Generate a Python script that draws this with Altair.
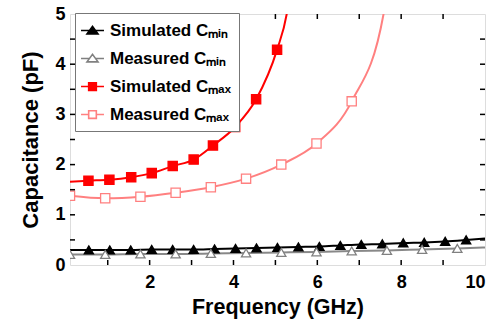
import altair as alt
import pandas as pd

# ---------------- data ----------------
series_names = ["Simulated Cₘᵢₙ", "Measured Cₘᵢₙ", "Simulated Cₘₐₓ", "Measured Cₘₐₓ"]

sim_cmin_f = [0.55, 1.05, 1.55, 2.05, 2.55, 3.05, 3.55, 4.05, 4.55, 5.05,
              5.55, 6.05, 6.55, 7.05, 7.55, 8.05, 8.55, 9.05, 9.55]
sim_cmin_c = [0.30, 0.30, 0.30, 0.31, 0.31, 0.31, 0.32, 0.33, 0.34, 0.35,
              0.36, 0.37, 0.39, 0.41, 0.42, 0.44, 0.45, 0.47, 0.50]

meas_cmin_f = [0.1, 0.94, 1.78, 2.62, 3.46, 4.30, 5.14, 5.98, 6.82, 7.66, 8.50, 9.34]
meas_cmin_c = [0.21, 0.21, 0.22, 0.22, 0.23, 0.24, 0.25, 0.26, 0.28, 0.29, 0.31, 0.33]

sim_cmax_f = [0.54, 1.04, 1.56, 2.05, 2.55, 3.05, 3.51, 4.04, 4.54, 5.04]
sim_cmax_c = [1.68, 1.70, 1.75, 1.83, 1.97, 2.10, 2.38, 2.75, 3.30, 4.29]

meas_cmax_f = [0.1, 0.94, 1.78, 2.62, 3.46, 4.30, 5.14, 5.98, 6.82]
meas_cmax_c = [1.38, 1.33, 1.36, 1.44, 1.55, 1.72, 2.00, 2.42, 3.26]

# curve ends (where the fitted lines run beyond the markers)
sim_cmin_ends = [(0.1, 0.30), (10.0, 0.53)]
meas_cmin_ends = [(10.0, 0.35)]
sim_cmax_ends = [(0.1, 1.66), (5.27, 5.0), (5.36, 5.5)]
meas_cmax_ends = [(7.58, 5.0), (7.68, 5.5)]

x_major = [2, 4, 6, 8, 10]
x_ticks = [1, 2, 3, 4, 5, 6, 7, 8, 9]
y_major = [0, 1, 2, 3, 4, 5]
y_ticks = [0.5, 1, 1.5, 2, 2.5, 3, 3.5, 4, 4.5]

# ---------------- tables ----------------
pts = []
for name, fs, cs in [(series_names[0], sim_cmin_f, sim_cmin_c),
                     (series_names[1], meas_cmin_f, meas_cmin_c),
                     (series_names[2], sim_cmax_f, sim_cmax_c),
                     (series_names[3], meas_cmax_f, meas_cmax_c)]:
    for f, c in zip(fs, cs):
        pts.append({"series": name, "f": f, "c": c})
pts_df = pd.DataFrame(pts)

lines = list(pts)
for name, ends in [(series_names[0], sim_cmin_ends), (series_names[1], meas_cmin_ends),
                   (series_names[2], sim_cmax_ends), (series_names[3], meas_cmax_ends)]:
    for f, c in ends:
        lines.append({"series": name, "f": f, "c": c})
lines_df = pd.DataFrame(lines).sort_values(["series", "f"])

xt_df = pd.DataFrame({"f": x_ticks})
yt_df = pd.DataFrame({"c": y_ticks})

W, H = 415, 251
TL = 5  # tick length
FONT = "Liberation Sans"

line_colors = ["#000000", "#888888", "#ff0000", "#ff8080"]
stroke_colors = ["#000000", "#808080", "#ff0000", "#ff8080"]
fill_colors = ["#000000", "#ffffff", "#ff0000", "#ffffff"]

xs = alt.Scale(domain=[0.1, 10], nice=False, zero=False)
ys = alt.Scale(domain=[0, 5], nice=False, zero=True)

x_axis = alt.Axis(orient="bottom", values=x_major, ticks=False, tickSize=0,
                  domain=False, grid=False, labelFont=FONT, labelFontSize=18,
                  labelFontWeight="bold", labelColor="black", labelPadding=8,
                  title="Frequency (GHz)", titleFont=FONT, titleFontSize=21.5,
                  titleFontWeight="bold", titleColor="black", titlePadding=5)
y_axis = alt.Axis(orient="left", values=y_major, ticks=False, tickSize=0,
                  domain=False, grid=False, labelFont=FONT, labelFontSize=18,
                  labelFontWeight="bold", labelColor="black", labelPadding=5,
                  title="Capacitance (pF)", titleFont=FONT, titleFontSize=22,
                  titleFontWeight="bold", titleColor="black", titlePadding=12)

X = lambda: alt.X("f:Q", scale=xs, axis=x_axis, title="Frequency (GHz)")
Y = lambda: alt.Y("c:Q", scale=ys, axis=y_axis, title="Capacitance (pF)")

lines_layer = alt.Chart(lines_df).mark_line(interpolate="monotone", clip=True, strokeWidth=2).encode(
    x=X(), y=Y(),
    stroke=alt.Stroke("series:N", scale=alt.Scale(domain=series_names, range=line_colors), legend=None),
    detail="series:N",
)

shape_scale = alt.Scale(domain=series_names, range=["triangle-up", "triangle-up", "square", "square"])

points_layer = alt.Chart(pts_df).mark_point(clip=True, strokeWidth=1.3, opacity=1, size=85).encode(
    x=X(), y=Y(),
    shape=alt.Shape("series:N", scale=shape_scale, legend=None),
    fill=alt.Fill("series:N", scale=alt.Scale(domain=series_names, range=fill_colors), legend=None),
    stroke=alt.Stroke("series:N", scale=alt.Scale(domain=series_names, range=stroke_colors), legend=None),
)

# inward tick marks on all four sides
tick_style = dict(color="black", strokeWidth=1.5)
xt_bottom = alt.Chart(xt_df).mark_rule(**tick_style).encode(
    x=X(), y=alt.value(H), y2=alt.value(H - TL))
xt_top = alt.Chart(xt_df).mark_rule(**tick_style).encode(
    x=X(), y=alt.value(0), y2=alt.value(TL))
yt_left = alt.Chart(yt_df).mark_rule(**tick_style).encode(
    y=Y(), x=alt.value(0), x2=alt.value(TL))
yt_right = alt.Chart(yt_df).mark_rule(**tick_style).encode(
    y=Y(), x=alt.value(W), x2=alt.value(W - TL))

legend_paths = [
    "M-1.35,0L1.35,0M-0.65,0.4L0,-0.5L0.65,0.4Z",
    "M-1.35,0L-0.33,0M0.33,0L1.35,0M-0.65,0.4L0,-0.5L0.65,0.4Z",
    "M-1.35,0L1.35,0M-0.45,-0.45L0.45,-0.45L0.45,0.45L-0.45,0.45Z",
    "M-1.35,0L-0.45,0M0.45,0L1.35,0M-0.45,-0.45L0.45,-0.45L0.45,0.45L-0.45,0.45Z",
]

leg = alt.Legend(title=None, orient="none", legendX=5, legendY=-1, padding=8,
                 strokeColor="#777777", fillColor="white", labelFont=FONT, labelFontSize=17,
                 labelFontWeight="bold", labelColor="black", labelOffset=8, rowPadding=10,
                 symbolSize=289, symbolStrokeWidth=1.6, labelLimit=300)

legend_layer = alt.Chart(pts_df).transform_filter("false").mark_point(opacity=1).encode(
    x=X(), y=Y(),
    shape=alt.Shape("series:N", scale=alt.Scale(domain=series_names, range=legend_paths), legend=leg),
    fill=alt.Fill("series:N", scale=alt.Scale(domain=series_names, range=fill_colors), legend=leg),
    stroke=alt.Stroke("series:N", scale=alt.Scale(domain=series_names, range=stroke_colors), legend=leg),
)

chart = alt.layer(lines_layer, points_layer, xt_bottom, xt_top, yt_left, yt_right, legend_layer).resolve_scale(
    shape="independent", fill="independent", stroke="independent"
).properties(
    width=W, height=H, padding={"left": 70, "top": 14, "right": 17, "bottom": 56},
    autosize=alt.AutoSizeParams(type="none"),
).configure_view(stroke="black", strokeWidth=2).configure(background="white")

chart.save("out.html", embed_options={"renderer": "svg", "actions": False})
